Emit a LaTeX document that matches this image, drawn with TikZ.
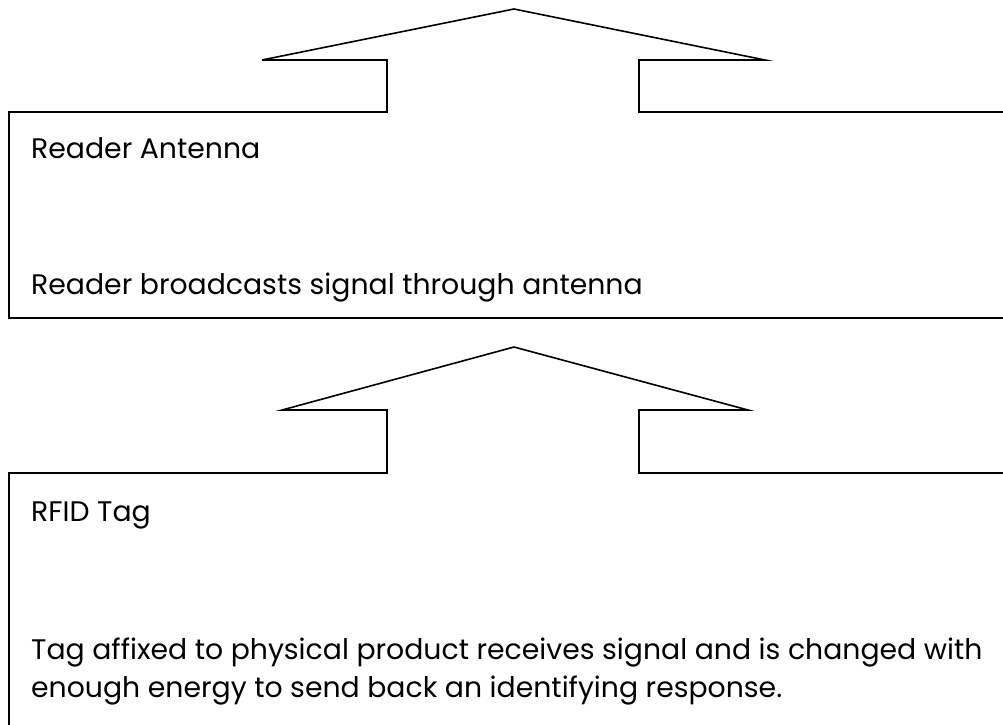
\documentclass[tikz,border=0pt]{standalone}
\usepackage{fontspec}
\setmainfont{Poppins}
\begin{document}
\begin{tikzpicture}[x=1pt,y=-1pt,
  outline/.style={draw=black,line width=1.6pt,line join=miter},
  lbl/.style={anchor=base west,inner sep=0pt,font=\fontsize{28.3}{38}\selectfont}]
\useasboundingbox (0,0) rectangle (1003,724);
\begin{scope}
\clip (0,0) rectangle (1003,724);
% upper shape: arrow outline joined to box
\coordinate (ua) at (514,9);
\draw[outline] (1010,318) -- (9,318) -- (9,112) -- (387,112) -- (387,60) -- (262,60) -- (ua) -- (765,60) -- (639,60) -- (639,112) -- (1010,112);
% lower shape
\coordinate (la) at (514,347);
\draw[outline] (9,730) -- (9,473) -- (387,473) -- (387,410) -- (282,410) -- (la) -- (748,410) -- (639,410) -- (639,473) -- (1010,473);
\end{scope}
\node[lbl] (t1) at (31,158) {Reader Antenna};
\node[lbl] (t2) at (31,294) {Reader broadcasts signal through antenna};
\node[lbl] (t3) at (31,521) {RFID Tag};
\node[lbl] (t4) at (31,659) {Tag affixed to physical product receives signal and is changed with};
\node[lbl] (t5) at (31,697) {enough energy to send back an identifying response.};
\end{tikzpicture}
\end{document}
